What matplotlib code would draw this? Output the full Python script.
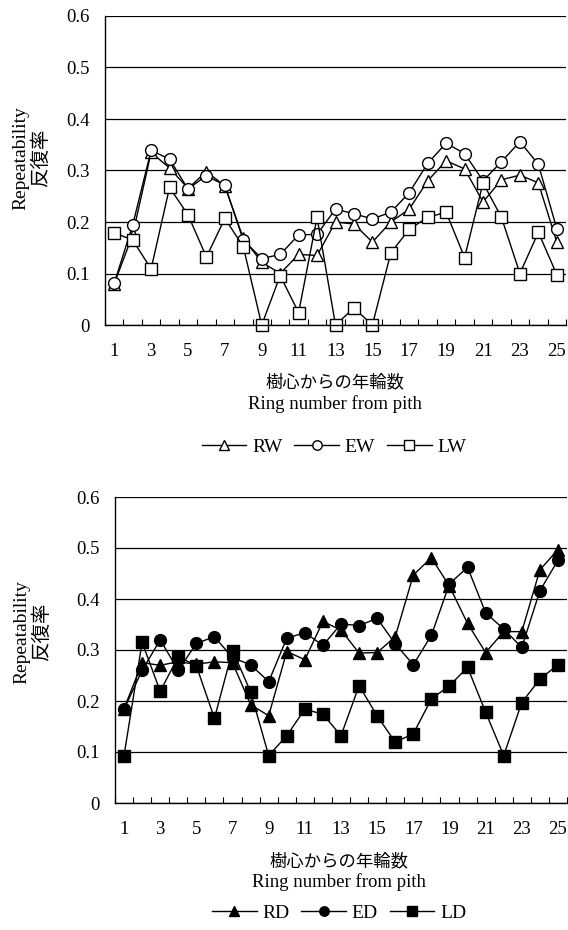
import matplotlib
matplotlib.use('Agg')
import matplotlib.pyplot as plt
from matplotlib.ticker import FixedLocator

plt.rcParams['font.family'] = ['Liberation Serif', 'Noto Sans CJK JP']

# ring number from pith
rings = list(range(1, 26))
x_tick_labels = [str(n) for n in range(1, 26, 2)]
y_ticks = [0, 0.1, 0.2, 0.3, 0.4, 0.5, 0.6]
y_tick_labels = ['0', '0.1', '0.2', '0.3', '0.4', '0.5', '0.6']

# ring width, earlywood width, latewood width
RW = [0.080, 0.175, 0.335, 0.305, 0.265, 0.298, 0.270, 0.168, 0.122, 0.100,
      0.137, 0.135, 0.200, 0.196, 0.161, 0.200, 0.225, 0.280, 0.319, 0.303,
      0.239, 0.282, 0.291, 0.276, 0.161]
EW = [0.081, 0.194, 0.339, 0.322, 0.264, 0.290, 0.271, 0.165, 0.129, 0.137,
      0.175, 0.176, 0.225, 0.216, 0.206, 0.219, 0.257, 0.314, 0.353, 0.333,
      0.280, 0.317, 0.356, 0.312, 0.187]
LW = [0.179, 0.165, 0.109, 0.267, 0.214, 0.132, 0.207, 0.152, 0.000, 0.096,
      0.024, 0.209, 0.000, 0.033, 0.000, 0.140, 0.186, 0.209, 0.219, 0.131,
      0.276, 0.209, 0.100, 0.180, 0.098]

# ring density, earlywood density, latewood density
RD = [0.185, 0.275, 0.270, 0.277, 0.272, 0.277, 0.275, 0.193, 0.171, 0.297,
      0.281, 0.356, 0.339, 0.294, 0.295, 0.326, 0.447, 0.481, 0.425, 0.352,
      0.295, 0.336, 0.336, 0.457, 0.497]
ED = [0.184, 0.260, 0.320, 0.260, 0.313, 0.326, 0.285, 0.271, 0.238, 0.323,
      0.334, 0.309, 0.351, 0.348, 0.362, 0.312, 0.271, 0.329, 0.430, 0.462,
      0.373, 0.341, 0.305, 0.416, 0.476]
LD = [0.093, 0.315, 0.219, 0.287, 0.269, 0.166, 0.299, 0.218, 0.093, 0.132,
      0.184, 0.174, 0.132, 0.230, 0.171, 0.119, 0.136, 0.204, 0.230, 0.266,
      0.178, 0.093, 0.197, 0.243, 0.271]

W, H = 568, 930


def fx(px):
    return px / W


def fy(py):
    return 1 - py / H


def style_axes(ax):
    ax.set_xlim(0.5, 25.5)
    ax.set_ylim(0, 0.6)
    ax.set_yticks(y_ticks)
    ax.set_yticklabels(y_tick_labels, fontsize=13.5)
    ax.set_xticks(rings[::2])
    ax.set_xticklabels(x_tick_labels, fontsize=13.5)
    ax.xaxis.set_minor_locator(FixedLocator([n + 0.5 for n in range(0, 26)]))
    ax.tick_params(axis='x', which='major', length=0, pad=13)
    ax.tick_params(axis='x', which='minor', direction='in', length=4, width=0.8)
    ax.tick_params(axis='y', length=0, pad=11)
    ax.grid(axis='y', color='black', linewidth=0.9)
    ax.set_axisbelow(True)
    for s in ['top', 'right']:
        ax.spines[s].set_visible(False)
    for s in ['left', 'bottom']:
        ax.spines[s].set_linewidth(1.0)


fig = plt.figure(figsize=(W / 100, H / 100), dpi=100)

# top chart: widths
ax1 = fig.add_axes([fx(105), fy(325), fx(461), 309 / H])
kw = dict(color='black', linewidth=1.0, markersize=8.5, markeredgewidth=1.0,
          markerfacecolor='white', markeredgecolor='black', clip_on=False)
l1, = ax1.plot(rings, RW, marker='^', label='RW', **kw)
l2, = ax1.plot(rings, EW, marker='o', label='EW', **kw)
l3, = ax1.plot(rings, LW, marker='s', label='LW', **kw)
style_axes(ax1)
fig.text(fx(31), fy(158), 'Repeatability\n反復率', rotation=90, ha='center',
         va='center', multialignment='center', fontsize=14, linespacing=1.15)
fig.text(fx(335), fy(383), '樹心からの年輪数', ha='center', va='center', fontsize=12.5)
fig.text(fx(335), fy(404), 'Ring number from pith', ha='center', va='center', fontsize=13.5)
fig.legend(handles=[l1, l2, l3], loc='center', bbox_to_anchor=(fx(334), fy(447)),
           ncol=3, frameon=False, fontsize=14, handlelength=2.3,
           columnspacing=0.6, handletextpad=0.3, markerscale=0.8)

# bottom chart: densities
ax2 = fig.add_axes([fx(115), fy(803), fx(452), 306 / H])
kw2 = dict(color='black', linewidth=1.0, markersize=8.5, markeredgewidth=1.0,
           markerfacecolor='black', markeredgecolor='black', clip_on=False)
m1, = ax2.plot(rings, RD, marker='^', label='RD', **kw2)
m2, = ax2.plot(rings, ED, marker='o', label='ED', **kw2)
m3, = ax2.plot(rings, LD, marker='s', label='LD', **kw2)
style_axes(ax2)
fig.text(fx(32), fy(632), 'Repeatability\n反復率', rotation=90, ha='center',
         va='center', multialignment='center', fontsize=14, linespacing=1.15)
fig.text(fx(339), fy(862), '樹心からの年輪数', ha='center', va='center', fontsize=12.5)
fig.text(fx(339), fy(882), 'Ring number from pith', ha='center', va='center', fontsize=13.5)
fig.legend(handles=[m1, m2, m3], loc='center', bbox_to_anchor=(fx(339), fy(913)),
           ncol=3, frameon=False, fontsize=14, handlelength=2.3,
           columnspacing=0.6, handletextpad=0.3, markerscale=0.8)

fig.savefig('out.png', dpi=100)
